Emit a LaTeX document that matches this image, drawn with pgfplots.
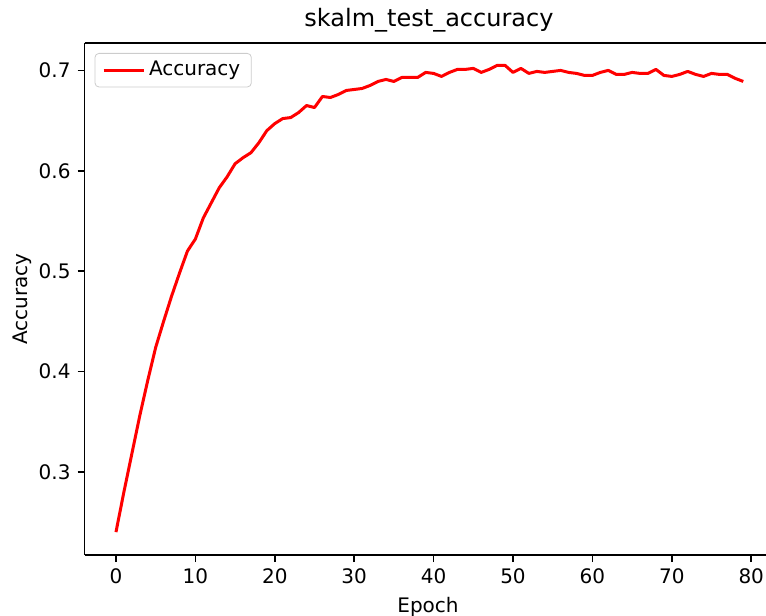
\documentclass[border=0pt]{standalone}
\usepackage{fontspec}
\setmainfont{DejaVu Sans}
\usepackage{pgfplots}
\pgfplotsset{compat=1.18}
\begin{document}
\begin{tikzpicture}
\path[use as bounding box] (-42.3pt,-30.5pt) rectangle (340.7pt,277.5pt);
\begin{axis}[
  at={(0,0)}, anchor=south west,
  scale only axis,
  width=340.7pt, height=256pt,
  xmin=-3.95, xmax=81.86,
  ymin=0.2172, ymax=0.7273,
  axis x line*=box, axis y line*=left,
  axis line style={line width=0.8pt},
  xtick={0,10,...,80},
  ytick={0.3,0.4,0.5,0.6,0.7},
  xtick pos=left, ytick pos=left,
  tick align=outside,
  major tick length=3.5pt,
  tick style={line width=0.8pt, black},
  yticklabel style={/pgf/number format/fixed, /pgf/number format/precision=1, /pgf/number format/fixed zerofill},
  /pgf/number format/assume math mode=true,
  tick label style={font=\fontsize{10}{12}\selectfont},
  title={skalm\_test\_accuracy},
  title style={at={(axis description cs:0.5054,1.008)}, anchor=base, font=\fontsize{12}{14}\selectfont},
  xlabel={Epoch},
  xlabel style={at={(axis description cs:0.504,-0.1015)}, anchor=center, font=\fontsize{10}{12}\selectfont},
  ylabel={Accuracy},
  ylabel style={at={(axis description cs:-0.0918,0.5)}, anchor=center, font=\fontsize{10}{12}\selectfont},
  legend style={at={(axis description cs:0,1)}, xshift=5pt, yshift=-5pt, anchor=north west,
    draw=black!20, rounded corners=2pt, font=\fontsize{10}{12}\selectfont,
    inner xsep=3.5pt, inner ysep=2pt},
  legend cell align=left,
  legend image code/.code={\draw[#1] (0pt,0pt) -- (20pt,0pt);},
]
\addplot[color=red, line width=1.5pt, line join=round] coordinates {
(0,0.240) (1,0.280) (2,0.318) (3,0.356) (4,0.391) (5,0.424) (6,0.450) (7,0.475) (8,0.498) (9,0.520)
(10,0.532) (11,0.553) (12,0.568) (13,0.583) (14,0.594) (15,0.607) (16,0.613) (17,0.618) (18,0.628) (19,0.640)
(20,0.647) (21,0.652) (22,0.653) (23,0.658) (24,0.665) (25,0.663) (26,0.674) (27,0.673) (28,0.676) (29,0.680)
(30,0.681) (31,0.682) (32,0.685) (33,0.689) (34,0.691) (35,0.689) (36,0.693) (37,0.693) (38,0.693) (39,0.698)
(40,0.697) (41,0.694) (42,0.698) (43,0.701) (44,0.701) (45,0.702) (46,0.698) (47,0.701) (48,0.705) (49,0.705)
(50,0.698) (51,0.702) (52,0.697) (53,0.699) (54,0.698) (55,0.699) (56,0.700) (57,0.698) (58,0.697) (59,0.695)
(60,0.695) (61,0.698) (62,0.700) (63,0.696) (64,0.696) (65,0.698) (66,0.697) (67,0.697) (68,0.701) (69,0.695)
(70,0.694) (71,0.696) (72,0.699) (73,0.696) (74,0.694) (75,0.697) (76,0.696) (77,0.696) (78,0.692) (79,0.689)
};
\addlegendentry{Accuracy}
\end{axis}
\end{tikzpicture}
\end{document}
